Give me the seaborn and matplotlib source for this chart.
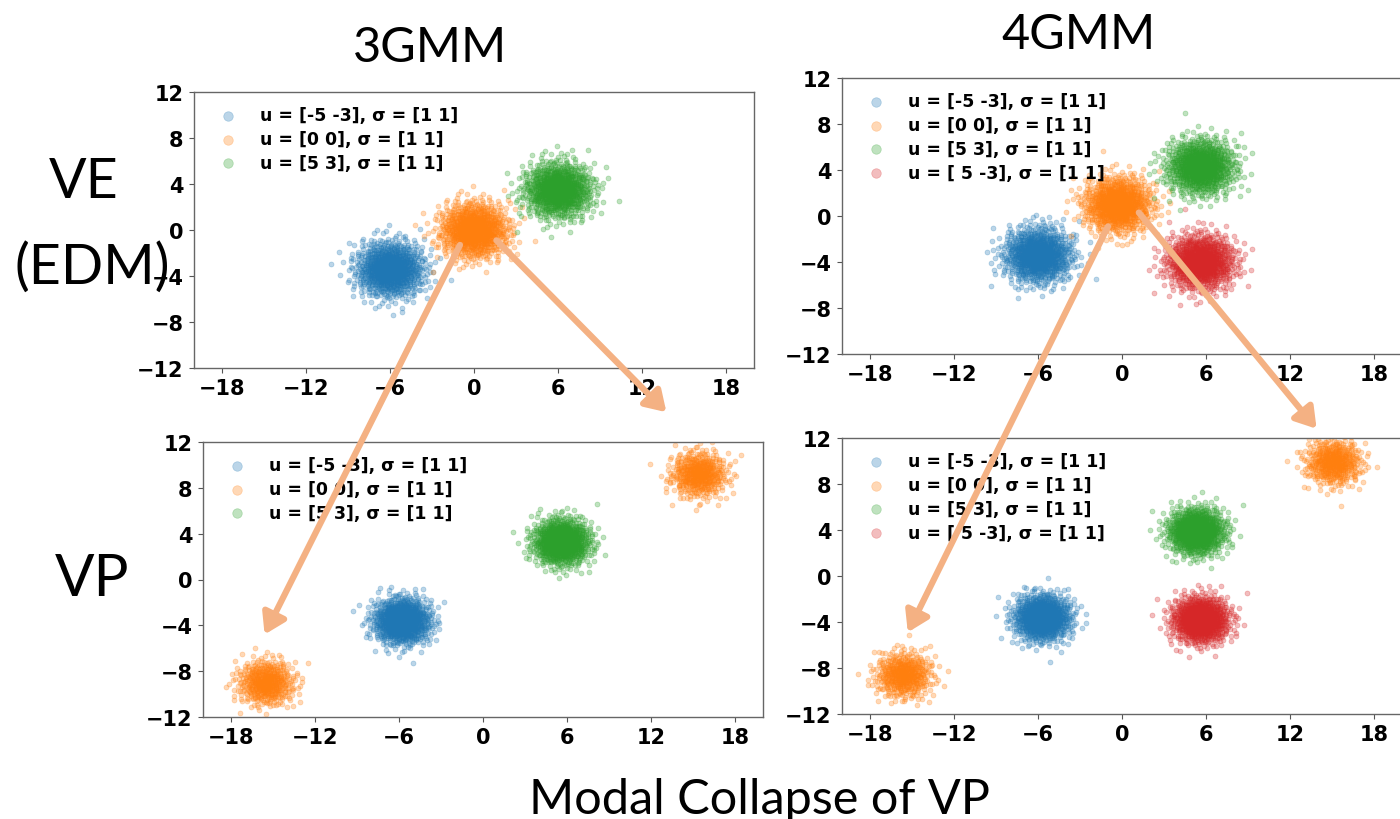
import numpy as np
import matplotlib
matplotlib.use("Agg")
import matplotlib.pyplot as plt
import seaborn as sns
from matplotlib.patches import ConnectionPatch

# ---------------- data ----------------
LEGEND_3 = ["u = [-5 -3], σ = [1 1]", "u = [0 0], σ = [1 1]", "u = [5 3], σ = [1 1]"]
LEGEND_4 = ["u = [-5 -3], σ = [1 1]", "u = [0 0], σ = [1 1]", "u = [5 3], σ = [1 1]",
            "u = [ 5 -3], σ = [1 1]"]
PALETTE = ["#1f77b4", "#ff7f0e", "#2ca02c", "#d62728"]

# cluster components of each panel: legend entry index, centre, spread, number of dots
VE3_COMP = [0, 1, 2]
VE3_X = [-6.0, 0.0, 6.0]
VE3_Y = [-3.4, 0.0, 3.5]
VE3_SD = [1.2, 1.2, 1.2]
VE3_N = [1000, 1000, 1000]

VE4_COMP = [0, 1, 2, 3]
VE4_X = [-6.0, -0.3, 5.6, 5.6]
VE4_Y = [-3.4, 1.0, 4.3, -4.0]
VE4_SD = [1.2, 1.2, 1.2, 1.2]
VE4_N = [1000, 1000, 1000, 1000]

VP3_COMP = [0, 1, 1, 2]
VP3_X = [-5.8, -15.5, 15.4, 5.6]
VP3_Y = [-3.6, -9.0, 9.2, 3.3]
VP3_SD = [1.0, 1.0, 1.0, 1.0]
VP3_N = [1000, 500, 500, 1000]

VP4_COMP = [0, 1, 1, 2, 3]
VP4_X = [-5.7, -15.6, 15.1, 5.3, 5.6]
VP4_Y = [-3.6, -8.6, 9.9, 3.9, -3.8]
VP4_SD = [1.0, 1.0, 1.0, 1.0, 1.0]
VP4_N = [1000, 500, 500, 1000, 1000]

X_TICKS = [-18, -12, -6, 0, 6, 12, 18]
Y_TICKS = [-12, -8, -4, 0, 4, 8, 12]

COL_TITLES = ["3GMM", "4GMM"]
ROW_TITLES = ["VE", "(EDM)", "VP"]
BOTTOM_TITLE = "Modal Collapse of VP"


# ---------------- helpers ----------------
def radical_inverse(idx, base):
    idx = idx.copy()
    f = 1.0
    r = np.zeros(len(idx))
    while np.any(idx > 0):
        f /= base
        r += f * (idx % base)
        idx //= base
    return r


def gaussian_cloud(n, offset):
    """Deterministic quasi-random (Halton + Box-Muller) unit Gaussian cloud."""
    i = np.arange(1, n + 1) + offset
    u1 = radical_inverse(i, 2)
    u2 = radical_inverse(i, 3)
    r = np.sqrt(-2.0 * np.log(u1))
    return r * np.cos(2 * np.pi * u2), r * np.sin(2 * np.pi * u2)


sns.set_style("white")
plt.rcParams["font.family"] = ["DejaVu Sans"]
plt.rcParams["font.weight"] = "bold"
plt.rcParams["text.color"] = "black"
plt.rcParams["xtick.color"] = "black"
plt.rcParams["ytick.color"] = "black"

fig = plt.figure(figsize=(14, 8.2), dpi=100)
W, H = 1400.0, 820.0


def add_axes(left, top, right, bottom):
    return fig.add_axes([left / W, 1 - bottom / H, (right - left) / W, (bottom - top) / H])


ax_tl = add_axes(194, 93, 754, 369)
ax_tr = add_axes(842, 79, 1402, 355)
ax_bl = add_axes(203, 443, 763, 718)
ax_br = add_axes(842, 439, 1402, 715)


def draw_panel(ax, comps, xs, ys, sds, ns, labels, seed_off):
    for k, lab in enumerate(labels):
        px, py = [], []
        for j, c in enumerate(comps):
            if c == k:
                zx, zy = gaussian_cloud(ns[j], seed_off + 173 * j + 7)
                px.append(xs[j] + sds[j] * zx)
                py.append(ys[j] + sds[j] * zy)
        sns.scatterplot(x=np.concatenate(px), y=np.concatenate(py), ax=ax,
                        color=PALETTE[k], alpha=0.3, s=13, edgecolor=PALETTE[k],
                        linewidth=0.5, label=lab, legend=False)
    ax.set_xlim(-20, 20)
    ax.set_ylim(-12, 12)
    ax.set_xticks(X_TICKS)
    ax.set_yticks(Y_TICKS)
    ax.tick_params(axis="both", direction="out", length=3.5, width=0.8,
                   color="#555555", labelcolor="black", labelsize=15, pad=4,
                   bottom=True, left=True)
    for lab in ax.get_xticklabels() + ax.get_yticklabels():
        lab.set_fontweight("bold")
    for sp in ax.spines.values():
        sp.set_color("#666666")
        sp.set_linewidth(1.0)
    ax.set_xlabel("")
    ax.set_ylabel("")
    leg = ax.legend(loc="upper left", bbox_to_anchor=(0.017, 0.973), borderaxespad=0,
                    frameon=False, prop={"weight": "bold", "size": 12.5}, markerscale=1.9,
                    handletextpad=0.84, labelspacing=0.33)
    for t in leg.get_texts():
        t.set_color("black")


draw_panel(ax_tl, VE3_COMP, VE3_X, VE3_Y, VE3_SD, VE3_N, LEGEND_3, 0)
draw_panel(ax_tr, VE4_COMP, VE4_X, VE4_Y, VE4_SD, VE4_N, LEGEND_4, 5000)
draw_panel(ax_bl, VP3_COMP, VP3_X, VP3_Y, VP3_SD, VP3_N, LEGEND_3, 11000)
draw_panel(ax_br, VP4_COMP, VP4_X, VP4_Y, VP4_SD, VP4_N, LEGEND_4, 17000)

# ---------------- arrows (modal collapse) ----------------
ARROW_COLOR = "#F4B183"
arrow_style = "-|>,head_length=0.6,head_width=0.38"


def connect(axA, xyA, axB, xyB):
    con = ConnectionPatch(xyA=xyA, coordsA="data", axesA=axA,
                          xyB=xyB, coordsB="data", axesB=axB,
                          arrowstyle=arrow_style, mutation_scale=20,
                          color=ARROW_COLOR, lw=4.5, shrinkA=0, shrinkB=0,
                          zorder=10)
    con.set_annotation_clip(False)
    fig.add_artist(con)


connect(ax_tl, (-1.0, -1.3), ax_bl, (-15.6, -4.8))
connect(ax_tl, (1.6, -0.9), ax_bl, (13.1, 14.6))
connect(ax_tr, (-1.0, -0.9), ax_br, (-15.3, -4.9))
connect(ax_tr, (1.2, 0.3), ax_br, (13.9, 12.8))

# ---------------- big labels ----------------
big = dict(family=["Lato", "DejaVu Sans"], weight="normal", ha="center", va="center",
           color="black")
fig.text(430 / W, 1 - 48 / H, COL_TITLES[0], fontsize=35, **big)
fig.text(1079 / W, 1 - 35 / H, COL_TITLES[1], fontsize=35, **big)
fig.text(84 / W, 1 - 183 / H, ROW_TITLES[0], fontsize=40, zorder=20, **big)
fig.text(92 / W, 1 - 268 / H, ROW_TITLES[1], fontsize=40, zorder=20, **big)
fig.text(92 / W, 1 - 580 / H, ROW_TITLES[2], fontsize=42, **big)
fig.text(760 / W, 1 - 800 / H, BOTTOM_TITLE, fontsize=35, **big)

fig.savefig("out.png", dpi=100)
